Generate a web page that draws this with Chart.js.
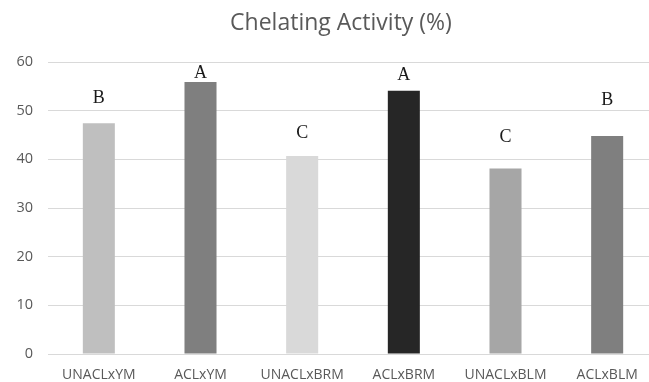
<!DOCTYPE html>
<html>
<head>
<meta charset="utf-8">
<script src="https://cdn.jsdelivr.net/npm/chart.js@4/dist/chart.umd.min.js"></script>
<style>
  html, body { margin: 0; padding: 0; background: #ffffff; overflow: hidden; }
  #wrap { width: 660px; height: 382px; }
</style>
</head>
<body>
<div id="wrap"><canvas id="chart" width="660" height="382"></canvas></div>
<script>
// Chelating activity of each treatment, in percent
const categories = ['UNACLxYM', 'ACLxYM', 'UNACLxBRM', 'ACLxBRM', 'UNACLxBLM', 'ACLxBLM'];
const chelating = [47.4, 55.9, 40.7, 54.1, 38.1, 44.8];
// Significance groups shown above each bar
const groups = ['B', 'A', 'C', 'A', 'C', 'B'];
const yTicks = [0, 10, 20, 30, 40, 50, 60];

const barColors = ['#bfbfbf', '#7f7f7f', '#d9d9d9', '#262626', '#a6a6a6', '#7f7f7f'];
// Height (axis units) at which each group letter is centred
const letterLevels = [52.6, 57.7, 45.4, 57.3, 44.6, 52.2];

const groupLetters = {
  id: 'groupLetters',
  afterDatasetsDraw(chart) {
    const { ctx, scales } = chart;
    const meta = chart.getDatasetMeta(0);
    ctx.save();
    ctx.font = '18px "Liberation Serif", serif';
    ctx.fillStyle = '#1a1a1a';
    ctx.textAlign = 'center';
    ctx.textBaseline = 'middle';
    meta.data.forEach((bar, i) => {
      ctx.fillText(groups[i], bar.x, scales.y.getPixelForValue(letterLevels[i]));
    });
    ctx.restore();
  }
};

const titleText = {
  id: 'titleText',
  afterDraw(chart) {
    const { ctx } = chart;
    ctx.save();
    ctx.font = '23px "Open Sans", sans-serif';
    ctx.fillStyle = '#595959';
    ctx.textAlign = 'center';
    ctx.textBaseline = 'middle';
    ctx.fillText('Chelating Activity (%)', 341, 23);
    ctx.restore();
  }
};

new Chart(document.getElementById('chart'), {
  type: 'bar',
  data: {
    labels: categories,
    datasets: [{
      data: chelating,
      backgroundColor: barColors,
      borderWidth: 0,
      barPercentage: 0.315,
      categoryPercentage: 1.0
    }]
  },
  options: {
    responsive: false,
    animation: false,
    layout: { padding: { top: 62, right: 2, left: 0, bottom: 0 } },
    plugins: {
      legend: { display: false },
      title: { display: false },
      tooltip: { enabled: false }
    },
    scales: {
      x: {
        grid: { display: false },
        border: { display: true, color: '#d9d9d9', width: 1 },
        ticks: {
          color: '#595959',
          font: { family: '"Open Sans", sans-serif', size: 14 },
          padding: 5,
          maxRotation: 0,
          autoSkip: false
        },
        afterFit(scale) { scale.height = 28; }
      },
      y: {
        min: 0,
        max: 60,
        afterBuildTicks(scale) { scale.ticks = yTicks.map(v => ({ value: v })); },
        grid: { color: '#d9d9d9', lineWidth: 1, drawTicks: false },
        border: { display: false },
        ticks: {
          color: '#595959',
          font: { family: '"Open Sans", sans-serif', size: 14.5 },
          padding: 15
        },
        afterFit(scale) { scale.width = 48; }
      }
    }
  },
  plugins: [groupLetters, titleText]
});
</script>
</body>
</html>
